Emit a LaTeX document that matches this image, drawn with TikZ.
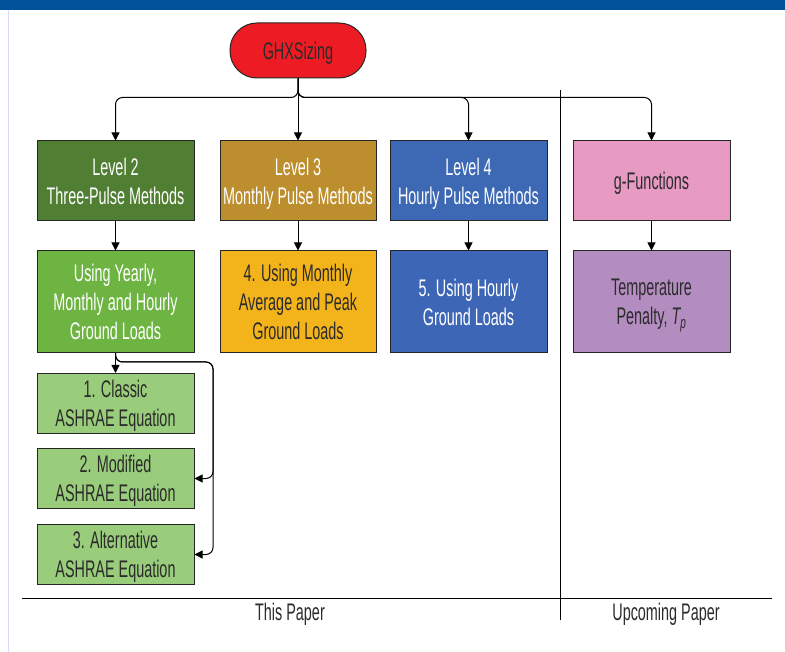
\documentclass[tikz,border=0pt]{standalone}
\usepackage{fontspec}
\setmainfont[FakeStretch=0.6]{Liberation Sans}
\usetikzlibrary{arrows.meta}
\definecolor{barblue}{HTML}{00529B}
\definecolor{ghxred}{HTML}{ED1C24}
\definecolor{lvtwo}{HTML}{507E33}
\definecolor{lvthree}{HTML}{BD8E2D}
\definecolor{lvfour}{HTML}{3D68B4}
\definecolor{gfun}{HTML}{E79AC2}
\definecolor{usegreen}{HTML}{6DB442}
\definecolor{monthamber}{HTML}{F2B31B}
\definecolor{hourblue}{HTML}{3E66B6}
\definecolor{temppurple}{HTML}{B38CC0}
\definecolor{lightgreen}{HTML}{99CC7B}
\definecolor{darktext}{HTML}{2B2B2B}
\tikzset{
  box/.style={draw=black!85, line width=1pt, minimum width=157pt, align=center,
    font=\fontsize{24}{29}\selectfont, inner sep=0pt, text depth=0pt},
  toprow/.style={box, minimum height=80pt},
  midrow/.style={box, minimum height=102pt},
  eqbox/.style={box, minimum height=60pt, fill=lightgreen, text=darktext},
  arr/.style={-{Triangle[length=8pt,width=8pt]}, line width=1pt},
  conn/.style={line width=1pt},
  lbl/.style={font=\fontsize{24}{29}\selectfont, text=darktext, inner sep=0pt, anchor=base}
}
\begin{document}
\begin{tikzpicture}[x=1pt,y=-1pt]
\useasboundingbox (0,0) rectangle (785,652);
\fill[white] (0,0) rectangle (785,652);
\fill[barblue] (0,0) rectangle (785,10);
\draw[blue!15, line width=1pt] (8,10) -- (8,652);

\node[draw=black!85, line width=1pt, fill=ghxred, rounded corners=27pt, minimum width=136pt,
  minimum height=55pt, font=\fontsize{24}{29}\selectfont, text=darktext, inner sep=0pt, text depth=0pt]
  (ghx) at (298,50.5) {GHXSizing};

\node[toprow, fill=lvtwo, text=white] (l2) at (115.5,181) {Level 2\\Three-Pulse Methods};
\node[toprow, fill=lvthree, text=white, minimum width=156pt] (l3) at (298,181) {Level 3\\Monthly Pulse Methods};
\node[toprow, fill=lvfour, text=white] (l4) at (468.5,181) {Level 4\\Hourly Pulse Methods};
\node[toprow, fill=gfun, text=darktext] (gf) at (651.5,181) {g-Functions};

\node[midrow, fill=usegreen, text=white] (u2) at (115.5,302) {Using Yearly,\\Monthly and Hourly\\Ground Loads};
\node[midrow, fill=monthamber, text=darktext, minimum width=156pt] (u3) at (298,302) {4. Using Monthly\\Average and Peak\\Ground Loads};
\node[midrow, fill=hourblue, text=white] (u4) at (468.5,302) {5. Using Hourly\\Ground Loads};
\node[midrow, fill=temppurple, text=darktext] (tp) at (651.5,302) {Temperature\\Penalty, {\itshape T\textsubscript{p}}};

\node[eqbox] (c1) at (115.5,403.5) {1. Classic\\ASHRAE Equation};
\node[eqbox] (c2) at (115.5,478.5) {2. Modified\\ASHRAE Equation};
\node[eqbox] (c3) at (115.5,554.5) {3. Alternative\\ASHRAE Equation};

% divider lines
\coordinate (dtop) at (560,90);
\coordinate (dbot) at (560,620);
\coordinate (hl) at (22,598);
\coordinate (hr) at (772,598);
\draw[conn] (dtop) -- (dbot);
\draw[conn] (hl) -- (hr);

% bus from GHXSizing
\draw[arr, rounded corners=7pt] (ghx.south) -- ++(0,19) -| (l2.north);
\draw[arr] (ghx.south) -- (l3.north);
\draw[arr, rounded corners=7pt] (ghx.south) -- ++(0,19) -| (l4.north);
\draw[arr, rounded corners=7pt] (ghx.south) -- ++(0,19) -| (gf.north);

% verticals
\draw[arr] (l2.south) -- (u2.north);
\draw[arr] (l3.south) -- (u3.north);
\draw[arr] (l4.south) -- (u4.north);
\draw[arr] (gf.south) -- (tp.north);

% equations
\draw[arr] (u2.south) -- (c1.north);
\coordinate (br) at (115.5,362);
\coordinate (rc) at (213,362);
\draw[arr, rounded corners=7pt] (u2.south) -- (br) -- (rc) |- (c2.east);
\draw[arr, rounded corners=7pt] (u2.south) -- (br) -- (rc) |- (c3.east);

\node[lbl] (tpap) at (290,620) {This Paper};
\node[lbl] (upap) at (666,620) {Upcoming Paper};
\end{tikzpicture}
\end{document}
